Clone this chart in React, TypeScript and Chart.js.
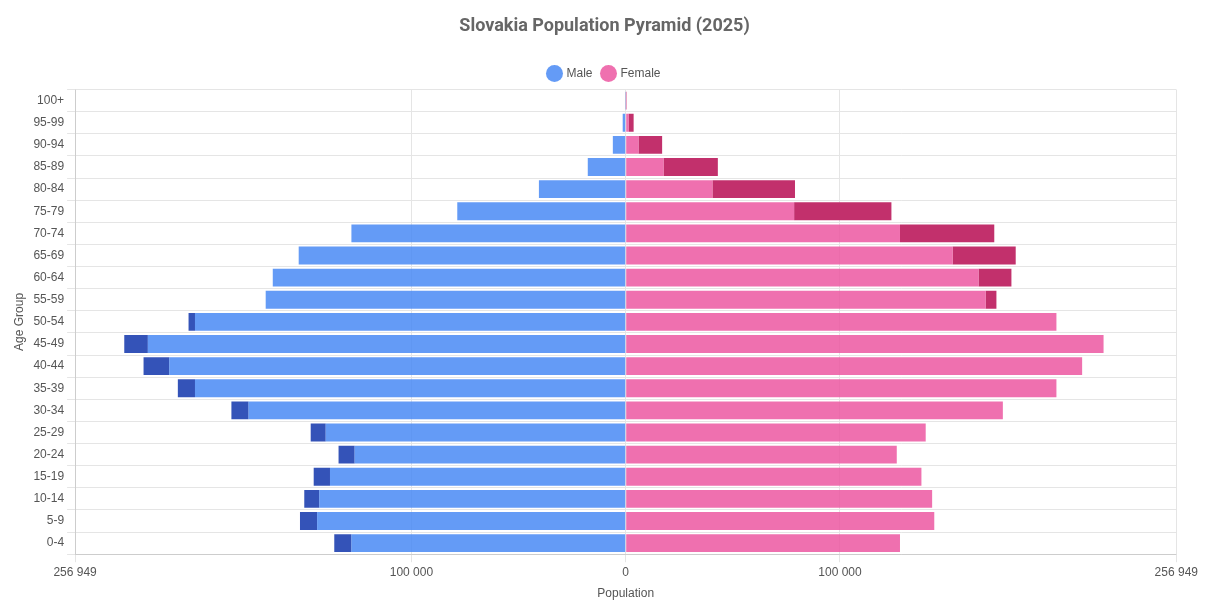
import React, { useEffect, useRef } from "react";
import { Chart, registerables } from "chart.js";
Chart.register(...registerables);

const ageGroups = ["100+","95-99","90-94","85-89","80-84","75-79","70-74","65-69","60-64","55-59","50-54","45-49","40-44","35-39","30-34","25-29","20-24","15-19","10-14","5-9","0-4"];
const male = [100,1400,6000,17700,40500,78600,128000,152600,164700,168000,204000,234000,225000,209000,184000,147000,134000,145600,150000,152000,136000];
const female = [300,3700,17000,43000,79000,124000,172000,182000,180000,173000,201000,223000,213000,201000,176000,140000,126500,138000,143000,144000,128000];
const axisLimit = 256949;
const tickValues = [-256949, -100000, 0, 100000, 256949];

const fmt = (v: number) => Math.abs(v).toString().replace(/\B(?=(\d{3})+(?!\d))/g, " ");

export default function App() {
  const ref = useRef<HTMLCanvasElement>(null);
  useEffect(() => {
    const maleBase = male.map((m, i) => -Math.min(m, female[i]));
    const maleExtra = male.map((m, i) => -Math.max(0, m - female[i]));
    const femaleBase = female.map((f, i) => Math.min(f, male[i]));
    const femaleExtra = female.map((f, i) => Math.max(0, f - male[i]));
    const common = { barPercentage: 0.92, categoryPercentage: 0.88, stack: "s" };
    const chart = new Chart(ref.current!, {
      type: "bar",
      data: {
        labels: ageGroups,
        datasets: [
          { label: "Male", data: maleBase, backgroundColor: "rgba(66,133,244,0.82)", borderColor: "rgba(66,133,244,0.82)", ...common },
          { label: "Male surplus", data: maleExtra, backgroundColor: "#3453b8", ...common },
          { label: "Female", data: femaleBase, backgroundColor: "rgba(236,80,158,0.82)", borderColor: "rgba(236,80,158,0.82)", ...common },
          { label: "Female surplus", data: femaleExtra, backgroundColor: "#c2306c", ...common },
        ],
      },
      options: {
        indexAxis: "y",
        animation: false,
        responsive: true,
        maintainAspectRatio: false,
        plugins: {
          title: { display: true, text: "Slovakia Population Pyramid (2025)", color: "#666", font: { size: 18, weight: "bold", family: "Roboto, Arial" }, padding: { top: 8, bottom: 20 } },
          legend: {
            labels: {
              usePointStyle: true, pointStyle: "circle", color: "#555", font: { size: 12 },
              filter: (item: any) => item.text === "Male" || item.text === "Female",
            },
          },
          tooltip: { enabled: false },
        },
        scales: {
          x: {
            stacked: true, min: -axisLimit, max: axisLimit,
            afterBuildTicks: (axis: any) => { axis.ticks = tickValues.map((v) => ({ value: v })); },
            ticks: { callback: (v: any) => fmt(Number(v)), color: "#555", autoSkip: false, maxRotation: 0 },
            title: { display: true, text: "Population", color: "#555" },
            grid: { color: "#e5e5e5" },
          },
          y: {
            stacked: true,
            ticks: { color: "#555" },
            title: { display: true, text: "Age Group", color: "#555" },
            grid: { color: "#e5e5e5" },
          },
        },
      } as any,
    });
    return () => chart.destroy();
  }, []);
  return (
    <div style={{ width: 1193, height: 597, fontFamily: "Roboto, Arial" }}>
      <canvas ref={ref} />
    </div>
  );
}
